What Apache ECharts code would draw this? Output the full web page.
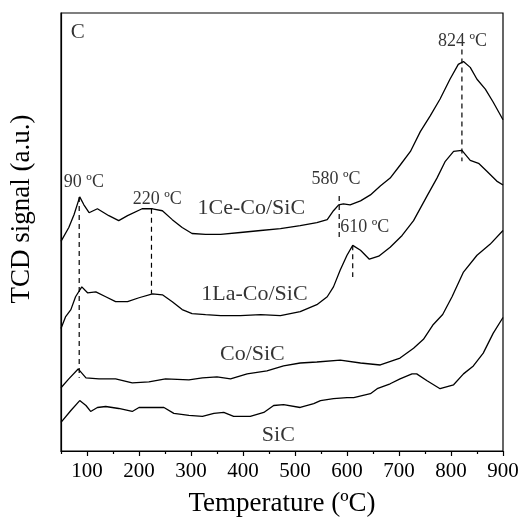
<!DOCTYPE html>
<html><head><meta charset="utf-8">
<script src="https://cdn.jsdelivr.net/npm/echarts@6/dist/echarts.min.js"></script>
<style>html,body{margin:0;padding:0;background:#fff}#c{width:522px;height:522px}</style>
</head><body><div id="c"></div>
<script>
// Temperature (°C) vs TCD signal (a.u., offset curves)
const ceCo = [[50,212],[65,226],[75,239],[86,257],[94,249],[104,241],[120,245],[142,238],[161,233],[178,238],[206,245],[226,245],[245,243],[264,234],[283,226],[302,220],[328,219],[357,219],[395,221],[434,223],[472,225],[510,228],[542,231],[562,234],[574,243],[584,249],[593,250],[606,249],[626,253],[645,259],[664,268],[683,276],[702,289],[722,303],[741,323],[760,339],[779,356],[798,376],[814,391],[824,394],[837,388],[850,376],[866,366],[881,353],[900,335]];
const laCo = [[50,124],[59,136],[69,143],[78,156],[90,166],[101,160],[117,161],[136,156],[155,151],[178,151],[200,155],[226,159],[245,158],[264,151],[283,143],[302,139],[328,138],[357,137],[395,137],[434,138],[472,137],[510,141],[542,148],[562,156],[574,166],[587,183],[600,198],[611,208],[626,203],[643,194],[661,197],[683,206],[706,218],[728,233],[754,258],[773,276],[789,293],[805,303],[821,304],[837,294],[853,291],[869,283],[888,273],[900,269]];
const coSiC = [[50,64],[65,73],[83,83],[98,74],[123,73],[155,73],[187,69],[219,70],[251,73],[296,72],[322,74],[350,75],[376,73],[408,78],[446,81],[478,86],[510,89],[542,90],[587,92],[626,89],[664,87],[702,94],[728,104],[747,113],[766,128],[784,138],[802,156],[824,181],[850,198],[875,209],[900,223]];
const siC = [[50,29],[69,41],[86,51],[98,46],[107,40],[120,44],[136,45],[161,43],[187,40],[200,44],[232,44],[248,44],[267,38],[296,36],[322,35],[344,38],[363,39],[382,35],[414,35],[440,39],[459,46],[478,47],[510,44],[536,48],[549,51],[574,53],[600,54],[613,54],[645,58],[658,63],[683,68],[702,73],[725,78],[734,78],[754,71],[779,63],[805,67],[824,78],[843,86],[862,99],[881,119],[900,135]];
// peak marker dashed lines: [temperature, signal from, signal to]
const peakLines = [[85,257,74],[224,245,159],[585,258,216],[611,208,176],[821,406,293]];
// text annotations
const curveNames = ['1Ce-Co/SiC','1La-Co/SiC','Co/SiC','SiC'];
const curveNamePos = [[416,246],[422,159],[418,98],[468,16]];
const peakTexts = ['90 ºC','220 ºC','580 ºC','610 ºC','824 ºC'];
const peakTextPos = [[94,272],[235,255],[579,275],[634,226],[822,414]];
const panelText = 'C';
const panelPos = [82,423];
const xTicks = [100,200,300,400,500,600,700,800,900];
const xMinorTicks = [50,150,250,350,450,550,650,750,850];

const FONT = 'Liberation Serif';
const chart = echarts.init(document.getElementById('c'), null, {renderer:'canvas'});
function curve(name, data){
  return {name, type:'line', data, symbol:'none', smooth:false, lineStyle:{color:'#000', width:1.3}, z:3, animation:false};
}
const series = [curve('1Ce-Co/SiC', ceCo), curve('1La-Co/SiC', laCo), curve('Co/SiC', coSiC), curve('SiC', siC)];
peakLines.forEach(p=>{
  series.push({type:'line', data:[[p[0],p[1]],[p[0],p[2]]], symbol:'none', lineStyle:{color:'#000', width:1.2, type:[5,4]}, z:2, animation:false});
});
function textSeries(texts, pos, size){
  return {type:'scatter', symbolSize:0, z:5, animation:false, silent:true,
    data: texts.map((t,i)=>({value:pos[i], name:t})),
    label:{show:true, position:'inside', formatter:p=>p.name, color:'#000', fontFamily:FONT, fontSize:size, align:'center', verticalAlign:'middle'}};
}
series.push(textSeries(curveNames, curveNamePos, 22));
series.push(textSeries(peakTexts, peakTextPos, 18));
series.push(textSeries([panelText], [panelPos], 21));

chart.setOption({
  backgroundColor:'#fff',
  animation:false,
  grid:{left:61, right:19, top:13, bottom:66, show:true, borderColor:'#000', borderWidth:1.2},
  xAxis:[{type:'value', min:50, max:900,
    name:'Temperature (ºC)', nameLocation:'middle', nameGap:39,
    nameTextStyle:{fontFamily:FONT, fontSize:27, color:'#000'},
    axisLine:{show:true, onZero:false, lineStyle:{color:'#000', width:1.2}},
    axisTick:{show:true, length:5, customValues:xTicks, lineStyle:{color:'#000', width:1.2}},
    axisLabel:{margin:10, fontFamily:FONT, fontSize:21, color:'#000', customValues:xTicks},
    splitLine:{show:false}},
   {type:'value', min:50, max:900, position:'bottom',
    axisLine:{show:false, onZero:false},
    axisTick:{show:true, length:3, customValues:xMinorTicks, lineStyle:{color:'#000', width:1.2}},
    axisLabel:{show:false}, splitLine:{show:false}}],
  yAxis:{type:'value', min:0, max:443,
    name:'TCD signal (a.u.)', nameLocation:'middle', nameGap:26, nameRotate:90,
    nameTextStyle:{fontFamily:FONT, fontSize:27, color:'#000', padding:[0,0,0,46]},
    axisLine:{show:true, lineStyle:{color:'#000', width:1.2}},
    axisTick:{show:false}, axisLabel:{show:false}, splitLine:{show:false}},
  series
});
</script></body></html>
